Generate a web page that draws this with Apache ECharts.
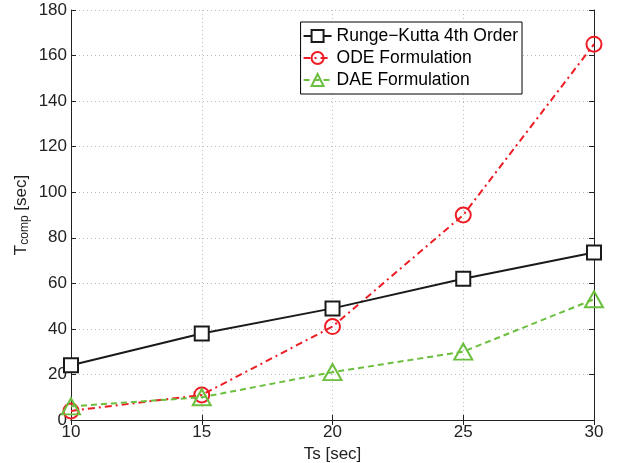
<!DOCTYPE html>
<html>
<head>
<meta charset="utf-8">
<script src="https://cdn.jsdelivr.net/npm/echarts@6/dist/echarts.min.js"></script>
<style>
  html, body { margin: 0; padding: 0; background: #fff; }
  #chart { width: 626px; height: 463px; }
</style>
</head>
<body>
<div id="chart"></div>
<script>
var ts = [10, 15, 20, 25, 30];
var rungeKutta = [24, 38, 49, 62, 73.5];
var odeForm = [4, 11, 41, 90, 165];
var daeForm = [6, 10, 21, 30, 53];

function pairs(ys) {
  return ts.map(function (x, i) { return [x, ys[i]]; });
}

var chart = echarts.init(document.getElementById("chart"));
var font = "Liberation Sans, Arial, sans-serif";
var gridLine = { show: true, lineStyle: { color: "#bbb", type: [1, 3], width: 1 } };

var option = {
  animation: false,
  textStyle: { fontFamily: font },
  grid: { left: 71, right: 32, top: 10, bottom: 43, outerBoundsMode: "none" },
  legend: {
    right: 104,
    top: 22,
    orient: "vertical",
    backgroundColor: "#fff",
    borderColor: "#000",
    borderWidth: 1,
    padding: [5, 4, 5, 2],
    itemGap: 4,
    itemWidth: 28,
    itemHeight: 15,
    textStyle: { fontSize: 17.5, color: "#000", fontFamily: font },
    data: ["Runge\u2212Kutta 4th Order", "ODE Formulation", "DAE Formulation"]
  },
  xAxis: [
    {
      type: "value", min: 10, max: 30, interval: 5,
      name: "Ts [sec]", nameLocation: "middle", nameGap: 26,
      nameMoveOverlap: false,
      nameTextStyle: { fontSize: 17, color: "#222" },
      axisLine: { lineStyle: { color: "#222", width: 1 } },
      axisTick: { inside: true, length: 5, lineStyle: { color: "#222" } },
      axisLabel: { fontSize: 17, color: "#222", margin: 4 },
      splitLine: gridLine
    },
    {
      type: "value", min: 10, max: 30, interval: 5, position: "top",
      axisLine: { show: true, lineStyle: { color: "#222", width: 1 } },
      axisTick: { inside: true, length: 5, lineStyle: { color: "#222" } },
      axisLabel: { show: false }, splitLine: { show: false }
    }
  ],
  yAxis: [
    {
      type: "value", min: 0, max: 180, interval: 20,
      name: "{a|T}{b|comp}{a| [sec]}", nameLocation: "middle", nameGap: 40,
      nameMoveOverlap: false,
      nameTextStyle: {
        rich: {
          a: { fontSize: 17, color: "#222", fontFamily: font },
          b: { fontSize: 12, color: "#222", fontFamily: font, verticalAlign: "bottom", padding: [8, 0, 0, 0] }
        }
      },
      axisLine: { show: true, lineStyle: { color: "#222", width: 1 } },
      axisTick: { inside: true, length: 5, lineStyle: { color: "#222" } },
      axisLabel: { fontSize: 17, color: "#222", margin: 4 },
      splitLine: gridLine
    },
    {
      type: "value", min: 0, max: 180, interval: 20, position: "right",
      axisLine: { show: true, lineStyle: { color: "#222", width: 1 } },
      axisTick: { inside: true, length: 5, lineStyle: { color: "#222" } },
      axisLabel: { show: false }, splitLine: { show: false }
    }
  ],
  series: [
    {
      name: "Runge\u2212Kutta 4th Order", type: "line",
      data: pairs(rungeKutta),
      symbol: "rect", symbolSize: 14,
      lineStyle: { color: "#1a1a1a", width: 2 },
      itemStyle: { color: "#fff", borderColor: "#1a1a1a", borderWidth: 2 },
      z: 3
    },
    {
      name: "ODE Formulation", type: "line",
      data: pairs(odeForm),
      symbol: "circle", symbolSize: 15,
      lineStyle: { color: "#ee1c24", width: 2, type: [7, 4, 2, 4] },
      itemStyle: { color: "rgba(255,255,255,0)", borderColor: "#ee1c24", borderWidth: 2 },
      z: 2
    },
    {
      name: "DAE Formulation", type: "line",
      data: pairs(daeForm),
      symbol: "triangle", symbolSize: [18, 16],
      lineStyle: { color: "#6cbf3e", width: 2, type: [6, 4] },
      itemStyle: { color: "rgba(255,255,255,0)", borderColor: "#6cbf3e", borderWidth: 2 },
      z: 4
    }
  ]
};

chart.setOption(option);
</script>
</body>
</html>
